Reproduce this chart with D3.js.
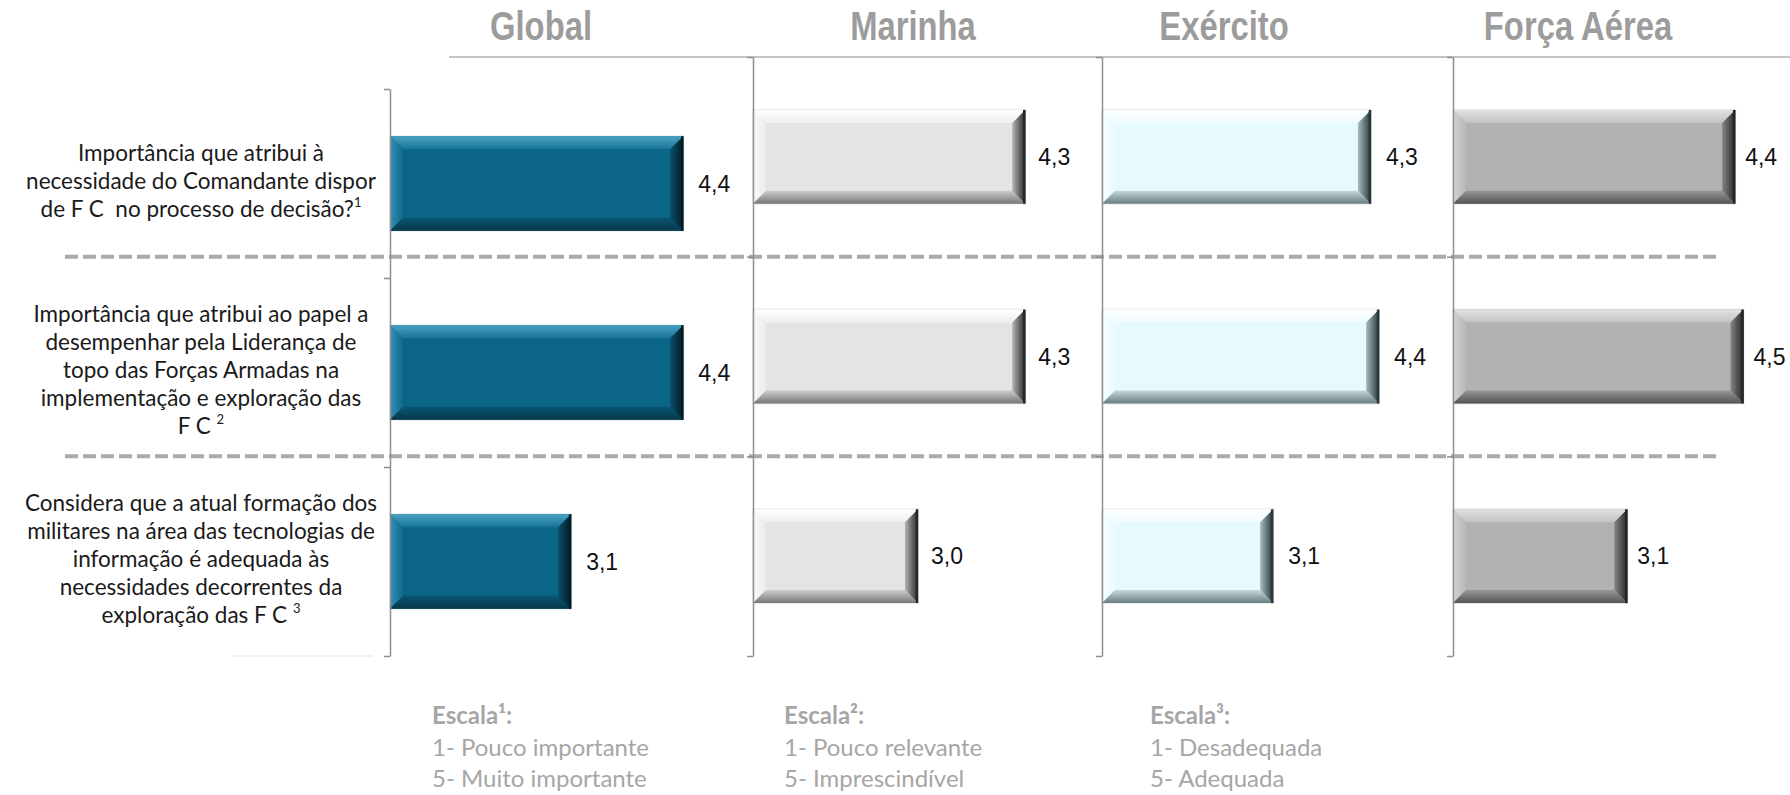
<!DOCTYPE html>
<html>
<head>
<meta charset="utf-8">
<script src="https://cdn.jsdelivr.net/npm/d3@7/dist/d3.min.js"></script>
<style>
  html, body { margin: 0; padding: 0; background: #ffffff; }
  svg { display: block; }
  text { white-space: pre; }
</style>
</head>
<body>
<svg id="chart" width="1790" height="795"></svg>
<script>
// ---------------- DATA ----------------
const panels = ["Global", "Marinha", "Exército", "Força Aérea"];
const questionLines = [
  ["Importância que atribui à", "necessidade do Comandante dispor", "de F C  no processo de decisão?"],
  ["Importância que atribui ao papel a", "desempenhar pela Liderança de", "topo das Forças Armadas na", "implementação e exploração das", "F C "],
  ["Considera que a atual formação dos", "militares na área das tecnologias de", "informação é adequada às", "necessidades decorrentes da", "exploração das F C "]
];
const questionNotes = ["1", "2", "3"];
const globalValues   = [4.4, 4.4, 3.1];
const marinhaValues  = [4.3, 4.3, 3.0];
const exercitoValues = [4.3, 4.4, 3.1];
const forcaValues    = [4.4, 4.5, 3.1];
const scaleDomain = [1, 5];
const legendTitles = ["Escala¹:", "Escala²:", "Escala³:"];
const legendLow  = ["1- Pouco importante", "1- Pouco relevante", "1- Desadequada"];
const legendHigh = ["5- Muito importante", "5- Imprescindível", "5- Adequada"];

// ---------------- LAYOUT ----------------
const seriesValues = [globalValues, marinhaValues, exercitoValues, forcaValues];
const layout = [
  { x0: 390,  w: 345, top: 89, titleX: 541, lblOff: 15 },
  { x0: 753,  w: 330, top: 57, titleX: 913, lblOff: 13 },
  { x0: 1102, w: 326, top: 57, titleX: 1224, lblOff: 15 },
  { x0: 1453, w: 332, top: 57, titleX: 1578, lblOff: 10 }
];
const bottom = 656;
const styles = [
  { face: "#0a6586", top: ["#4aa3c3", "#16739a"], left: ["#3591b3", "#0e6a8c"], bottom: ["#06374a", "#0a5672"], right: ["#021c27", "#0a4f68"] },
  { face: "#e4e4e4", top: ["#ffffff", "#efefef"], left: ["#fafafa", "#ebebeb"], bottom: ["#777777", "#cccccc"], right: ["#262626", "#b5b5b5"] },
  { face: "#e6f9fd", top: ["#ffffff", "#f0fcff"], left: ["#f6feff", "#e9fbff"], bottom: ["#6a7c80", "#c5d8dc"], right: ["#27363a", "#a9bcc0"] },
  { face: "#b2b2b2", top: ["#e2e2e2", "#c2c2c2"], left: ["#d2d2d2", "#b8b8b8"], bottom: ["#545454", "#979797"], right: ["#262626", "#858585"] }
];

const svg = d3.select("#chart");
const defs = svg.append("defs");

styles.forEach((s, i) => {
  const mk = (id, c, x1, y1, x2, y2) => {
    const g = defs.append("linearGradient").attr("id", id)
      .attr("x1", x1).attr("y1", y1).attr("x2", x2).attr("y2", y2);
    g.append("stop").attr("offset", "0%").attr("stop-color", c[0]);
    g.append("stop").attr("offset", "100%").attr("stop-color", c[1]);
  };
  mk("gt" + i, s.top, 0, 0, 0, 1);
  mk("gb" + i, s.bottom, 0, 1, 0, 0);
  mk("gl" + i, s.left, 0, 0, 1, 0);
  mk("gr" + i, s.right, 1, 0, 0, 0);
});

const fmt = v => d3.format(".1f")(v).replace(".", ",");

// top rule
svg.append("line").attr("x1", 449).attr("x2", 1790).attr("y1", 57).attr("y2", 57)
  .attr("stroke", "#c4c4c4").attr("stroke-width", 2);

// faint line under labels
svg.append("line").attr("x1", 234).attr("x2", 373).attr("y1", bottom).attr("y2", bottom)
  .attr("stroke", "#ececec").attr("stroke-width", 1.5);

// titles (condensed bold)
panels.forEach((p, i) => {
  svg.append("text")
    .attr("transform", `translate(${layout[i].titleX},40) scale(0.82,1)`)
    .attr("text-anchor", "middle")
    .attr("font-family", "'Liberation Sans', Arial, sans-serif")
    .attr("font-weight", "bold").attr("font-size", 40).attr("fill", "#9c9c9c")
    .text(p);
});

// separators
const sepScale = d3.scaleLinear().domain([0, 3]).range([layout[1].top, bottom]);
[1, 2].forEach(k => {
  svg.append("line").attr("x1", 65).attr("x2", 1716)
    .attr("y1", sepScale(k)).attr("y2", sepScale(k))
    .attr("stroke", "#ababab").attr("stroke-width", 4)
    .attr("stroke-dasharray", "13,5");
});

function bevelBar(g, i, x0, x1, y0, y1) {
  const b = Math.min(13, (x1 - x0) / 3, (y1 - y0) / 3);
  const s = styles[i];
  g.append("rect").attr("x", x0).attr("y", y0).attr("width", x1 - x0).attr("height", y1 - y0)
    .attr("fill", s.face);
  const poly = (pts, fill) => g.append("polygon")
    .attr("points", pts.map(p => p.join(",")).join(" ")).attr("fill", fill);
  poly([[x0, y0], [x1, y0], [x1 - b, y0 + b], [x0 + b, y0 + b]], `url(#gt${i})`);
  poly([[x0, y0], [x0 + b, y0 + b], [x0 + b, y1 - b], [x0, y1]], `url(#gl${i})`);
  poly([[x0, y1], [x1, y1], [x1 - b, y1 - b], [x0 + b, y1 - b]], `url(#gb${i})`);
  poly([[x1, y0], [x1 - b, y0 + b], [x1 - b, y1 - b], [x1, y1]], `url(#gr${i})`);
  g.append("line").attr("x1", x1 - 1).attr("x2", x1 - 1).attr("y1", y0).attr("y2", y1)
    .attr("stroke", s.right[0]).attr("stroke-width", 2.5);
  g.append("rect").attr("x", x0 - 0.5).attr("y", y0 - 0.5).attr("width", x1 - x0 + 1).attr("height", y1 - y0 + 1)
    .attr("fill", "none").attr("stroke", "rgba(0,0,0,0.08)").attr("stroke-width", 1);
}

panels.forEach((p, i) => {
  const L = layout[i];
  const x = d3.scaleLinear().domain(scaleDomain).range([L.x0, L.x0 + L.w]);
  const pad = i === 0 ? 0.5 : 0.53;
  const y = d3.scaleBand().domain(d3.range(questionLines.length)).range([L.top, bottom])
    .paddingInner(pad).paddingOuter(pad / 2);
  const g = svg.append("g");
  const vals = seriesValues[i];

  vals.forEach((v, k) => {
    bevelBar(g, i, x(scaleDomain[0]), x(v), y(k), y(k) + y.bandwidth());
    g.append("text").attr("x", x(v) + L.lblOff).attr("y", y(k) + y.bandwidth() / 2)
      .attr("dominant-baseline", "central")
      .attr("font-family", "'Liberation Sans', Arial, sans-serif").attr("font-size", 23)
      .attr("fill", "#111").text(fmt(v));
  });

  const yb = d3.scaleLinear().domain([0, questionLines.length]).range([L.top, bottom]);
  const ax = svg.append("g").attr("transform", `translate(${L.x0},0)`)
    .call(d3.axisLeft(yb).tickValues(d3.range(questionLines.length + 1)).tickFormat("").tickSize(6).tickSizeOuter(0));
  ax.selectAll("path, line").attr("stroke", "#8f8f8f").attr("stroke-width", 1.5);
});

// question labels
const yG = d3.scaleBand().domain(d3.range(questionLines.length)).range([layout[0].top, bottom])
  .paddingInner(0.5).paddingOuter(0.25);
const lineH = 28;
questionLines.forEach((lines, k) => {
  const cy = yG(k) + yG.bandwidth() / 2 - 3.5;
  const startY = cy - (lines.length - 1) * lineH / 2;
  lines.forEach((ln, j) => {
    const t = svg.append("text").attr("x", 201).attr("y", startY + j * lineH)
      .attr("text-anchor", "middle").attr("dominant-baseline", "central")
      .attr("font-family", "Lato, 'Open Sans', sans-serif").attr("font-size", 22.5)
      .attr("fill", "#1a1a1a");
    t.append("tspan").text(ln);
    if (j === lines.length - 1) {
      t.append("tspan").attr("font-size", 13).attr("dy", -6).text(questionNotes[k]);
    }
  });
});

// legend
const legendX = [432, 784, 1150];
legendTitles.forEach((tt, i) => {
  const g = svg.append("g").attr("font-family", "Lato, 'Open Sans', sans-serif")
    .attr("font-size", 24).attr("fill", "#a6a6a6");
  g.append("text").attr("x", legendX[i]).attr("y", 724).attr("font-weight", "bold").text(tt);
  g.append("text").attr("x", legendX[i]).attr("y", 756).text(legendLow[i]);
  g.append("text").attr("x", legendX[i]).attr("y", 787).text(legendHigh[i]);
});
</script>
</body>
</html>
